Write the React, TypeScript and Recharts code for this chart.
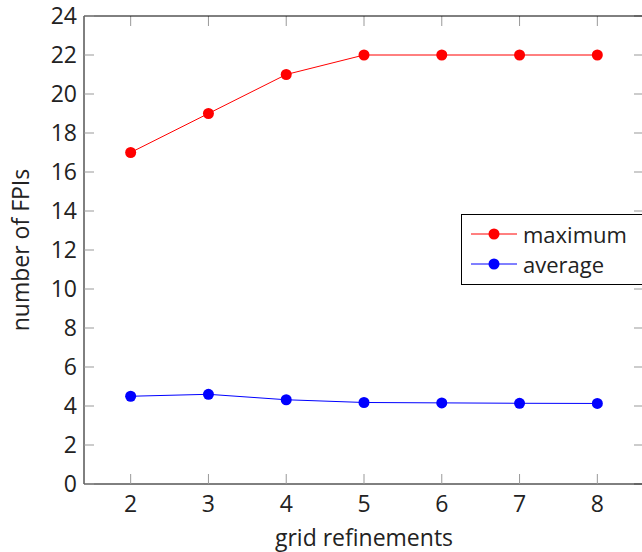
import React from 'react';
import { LineChart, Line, XAxis, YAxis, ReferenceLine } from 'recharts';

const refinements = [2, 3, 4, 5, 6, 7, 8];
const maximumFPIs = [17, 19, 21, 22, 22, 22, 22];
const averageFPIs = [4.5, 4.6, 4.32, 4.18, 4.16, 4.14, 4.13];
const xTicks = [2, 3, 4, 5, 6, 7, 8];
const yTicks = [0, 2, 4, 6, 8, 10, 12, 14, 16, 18, 20, 22, 24];
const xDomain = [1.4, 8.6];
const yDomain = [0, 24];
const seriesNames = ['maximum', 'average'];
const seriesColors = ['#ff0000', '#0000ff'];

const data = refinements.map((r, i) => ({ r, maximum: maximumFPIs[i], average: averageFPIs[i] }));

const FONT = '"Open Sans", sans-serif';
const TXT = '#222';
const TICK = '#999';

const LegendBox = () => (
  <div
    style={{
      position: 'absolute',
      left: 461,
      top: 214,
      border: '1px solid #000',
      background: '#fff',
      fontFamily: FONT,
      fontSize: 22,
      color: TXT,
      padding: '4px 8px 4px 9px',
      boxSizing: 'border-box',
      width: 200,
      height: 71,
    }}
  >
    {seriesNames.map((name, i) => (
      <div key={name} style={{ display: 'flex', alignItems: 'center', height: 30, lineHeight: '30px' }}>
        <svg width={46} height={14} style={{ marginRight: 6 }}>
          <line x1={0} y1={7} x2={46} y2={7} stroke={seriesColors[i]} strokeWidth={1} />
          <circle cx={23} cy={7} r={5.5} fill={seriesColors[i]} />
        </svg>
        <span>{name}</span>
      </div>
    ))}
  </div>
);

const topTick = (p: any) => {
  const top = Math.min(p.y1, p.y2);
  return <line x1={p.x1} y1={top} x2={p.x1} y2={top + 10} stroke={TICK} strokeWidth={1} />;
};
const rightTick = (p: any) => {
  const right = Math.max(p.x1, p.x2);
  return <line x1={right} y1={p.y1} x2={right - 10} y2={p.y1} stroke={TICK} strokeWidth={1} />;
};

export default function App() {
  return (
    <div style={{ position: 'fixed', left: 0, top: 0, width: 642, height: 552, overflow: 'hidden', background: '#fff' }}>
      <LineChart width={646} height={552} data={data} margin={{ top: 16, right: 2, left: 0, bottom: 0 }}>
        <XAxis
          dataKey="r"
          type="number"
          domain={xDomain}
          ticks={xTicks}
          allowDataOverflow
          height={68}
          axisLine={{ stroke: '#000', strokeWidth: 1 }}
          tickLine={{ stroke: TICK, strokeWidth: 1 }}
          tickSize={-10}
          tickMargin={22}
          tick={{ fill: TXT, fontFamily: FONT, fontSize: 23 }}
          label={{
            content: (p: any) => {
              const vb = p.viewBox || {};
              return (
                <text x={vb.x + vb.width / 2} y={vb.y + 62} textAnchor="middle" fill={TXT} fontFamily={FONT} fontSize={23}>
                  grid refinements
                </text>
              );
            },
          }}
        />
        <YAxis
          type="number"
          domain={yDomain}
          ticks={yTicks}
          allowDataOverflow
          width={84}
          axisLine={{ stroke: '#000', strokeWidth: 1 }}
          tickLine={{ stroke: TICK, strokeWidth: 1 }}
          tickSize={-10}
          tickMargin={17}
          tick={{ fill: TXT, fontFamily: FONT, fontSize: 23 }}
          label={{
            content: (p: any) => {
              const vb = p.viewBox || {};
              const cx = vb.x + 20;
              const cy = vb.y + vb.height / 2;
              return (
                <text
                  x={cx}
                  y={cy}
                  transform={`rotate(-90 ${cx} ${cy})`}
                  textAnchor="middle"
                  dominantBaseline="central"
                  fill={TXT}
                  fontFamily={FONT}
                  fontSize={23}
                >
                  number of FPIs
                </text>
              );
            },
          }}
        />
        {xTicks.map((t) => (
          <ReferenceLine key={`xt${t}`} x={t} shape={topTick} ifOverflow="visible" />
        ))}
        {yTicks.map((t) => (
          <ReferenceLine key={`yt${t}`} y={t} shape={rightTick} ifOverflow="visible" />
        ))}
        <ReferenceLine y={yDomain[1]} stroke="#000" strokeWidth={1} ifOverflow="visible" />
        <ReferenceLine x={xDomain[1]} stroke="#000" strokeWidth={1} ifOverflow="visible" />
        <Line
          dataKey="maximum"
          name="maximum"
          stroke={seriesColors[0]}
          strokeWidth={1}
          dot={{ r: 5.5, fill: seriesColors[0], stroke: 'none' }}
          isAnimationActive={false}
        />
        <Line
          dataKey="average"
          name="average"
          stroke={seriesColors[1]}
          strokeWidth={1}
          dot={{ r: 5.5, fill: seriesColors[1], stroke: 'none' }}
          isAnimationActive={false}
        />
      </LineChart>
      <LegendBox />
    </div>
  );
}
